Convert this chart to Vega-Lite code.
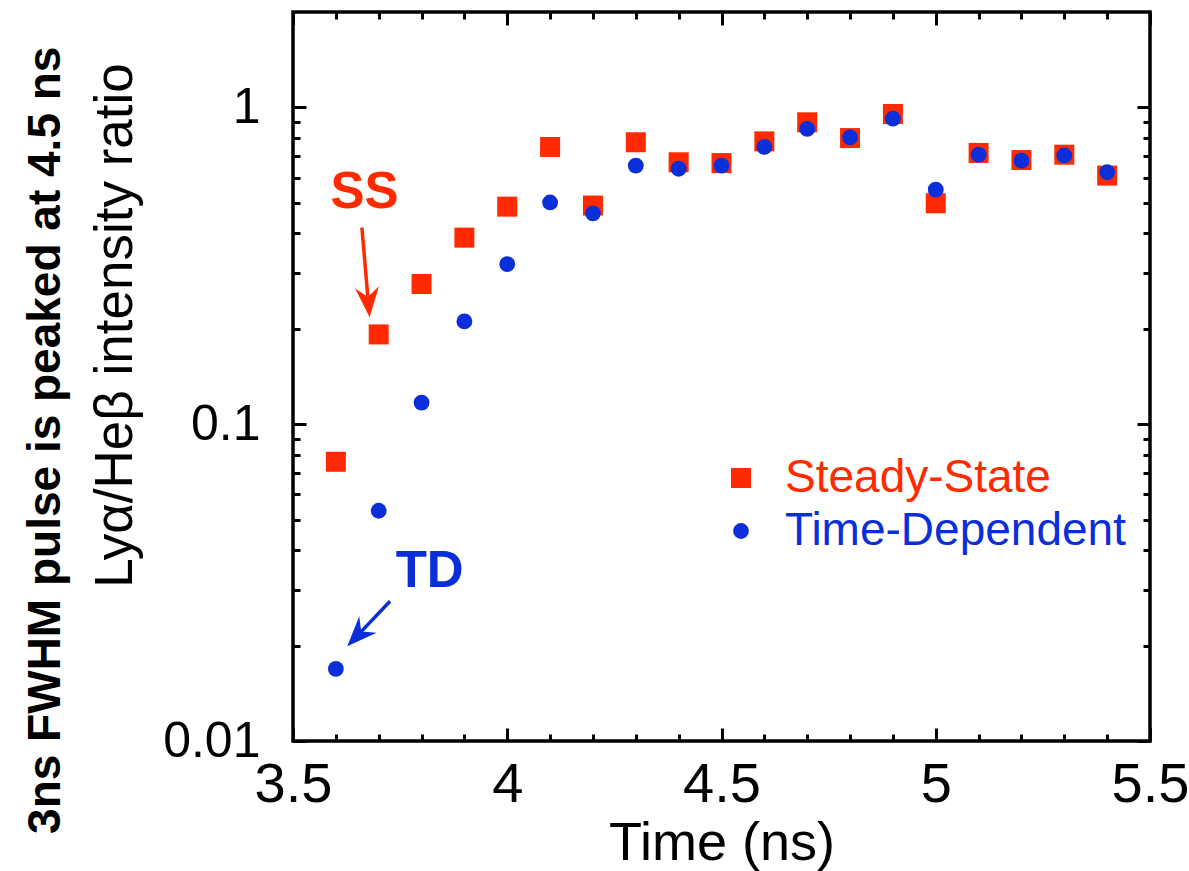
{
  "$schema": "https://vega.github.io/schema/vega-lite/v6.json",
  "width": 857,
  "height": 729,
  "autosize": {"type": "none"},
  "padding": {"left": 293, "top": 12, "right": 39, "bottom": 130},
  "background": "white",
  "title": {
    "text": "3ns FWHM pulse is peaked at 4.5 ns",
    "orient": "left",
    "anchor": "middle",
    "frame": "bounds",
    "font": "Liberation Sans",
    "fontSize": 46,
    "fontWeight": "bold",
    "color": "black",
    "offset": 20
  },
  "config": {
    "view": {"stroke": "black", "strokeWidth": 3.5},
    "axis": {"domain": false, "grid": false, "tickColor": "black", "tickWidth": 3, "labelColor": "black", "titleColor": "black", "labelFlush": false, "labelOverlap": false, "labelBound": false},
    "legend": {
      "orient": "none",
      "legendX": 425,
      "legendY": 443,
      "padding": 0,
      "rowPadding": 7,
      "labelOffset": 21,
      "labelFont": "Liberation Sans",
      "labelFontSize": 46,
      "labelLimit": 0,
      "symbolStrokeWidth": 0,
      "symbolOpacity": 1
    }
  },
  "datasets": {
    "pts": [
      {"t": 3.6, "r": 0.0761, "series": "Steady-State"},
      {"t": 3.7, "r": 0.192, "series": "Steady-State"},
      {"t": 3.8, "r": 0.277, "series": "Steady-State"},
      {"t": 3.9, "r": 0.388, "series": "Steady-State"},
      {"t": 4.0, "r": 0.486, "series": "Steady-State"},
      {"t": 4.1, "r": 0.750, "series": "Steady-State"},
      {"t": 4.2, "r": 0.490, "series": "Steady-State"},
      {"t": 4.3, "r": 0.776, "series": "Steady-State"},
      {"t": 4.4, "r": 0.671, "series": "Steady-State"},
      {"t": 4.5, "r": 0.667, "series": "Steady-State"},
      {"t": 4.6, "r": 0.781, "series": "Steady-State"},
      {"t": 4.7, "r": 0.897, "series": "Steady-State"},
      {"t": 4.8, "r": 0.800, "series": "Steady-State"},
      {"t": 4.9, "r": 0.953, "series": "Steady-State"},
      {"t": 5.0, "r": 0.498, "series": "Steady-State"},
      {"t": 5.1, "r": 0.718, "series": "Steady-State"},
      {"t": 5.2, "r": 0.682, "series": "Steady-State"},
      {"t": 5.3, "r": 0.709, "series": "Steady-State"},
      {"t": 5.4, "r": 0.609, "series": "Steady-State"},
      {"t": 3.6, "r": 0.0169, "series": "Time-Dependent"},
      {"t": 3.7, "r": 0.0533, "series": "Time-Dependent"},
      {"t": 3.8, "r": 0.117, "series": "Time-Dependent"},
      {"t": 3.9, "r": 0.211, "series": "Time-Dependent"},
      {"t": 4.0, "r": 0.320, "series": "Time-Dependent"},
      {"t": 4.1, "r": 0.501, "series": "Time-Dependent"},
      {"t": 4.2, "r": 0.463, "series": "Time-Dependent"},
      {"t": 4.3, "r": 0.655, "series": "Time-Dependent"},
      {"t": 4.4, "r": 0.640, "series": "Time-Dependent"},
      {"t": 4.5, "r": 0.655, "series": "Time-Dependent"},
      {"t": 4.6, "r": 0.750, "series": "Time-Dependent"},
      {"t": 4.7, "r": 0.855, "series": "Time-Dependent"},
      {"t": 4.8, "r": 0.804, "series": "Time-Dependent"},
      {"t": 4.9, "r": 0.922, "series": "Time-Dependent"},
      {"t": 5.0, "r": 0.550, "series": "Time-Dependent"},
      {"t": 5.1, "r": 0.709, "series": "Time-Dependent"},
      {"t": 5.2, "r": 0.679, "series": "Time-Dependent"},
      {"t": 5.3, "r": 0.705, "series": "Time-Dependent"},
      {"t": 5.4, "r": 0.624, "series": "Time-Dependent"}
    ]
  },
  "layer": [
    {
      "data": {"name": "pts"},
      "mark": {"type": "point", "filled": true, "opacity": 1, "strokeWidth": 0},
      "encoding": {
        "x": {
          "field": "t", "type": "quantitative",
          "scale": {"domain": [3.5, 5.5], "nice": false, "zero": false},
          "axis": {
            "orient": "bottom",
            "values": [3.5, 3.6, 3.7, 3.8, 3.9, 4, 4.1, 4.2, 4.3, 4.4, 4.5, 4.6, 4.7, 4.8, 4.9, 5, 5.1, 5.2, 5.3, 5.4, 5.5],
            "tickSize": {"condition": {"test": "abs(datum.value*2 - round(datum.value*2)) < 0.001", "value": -13}, "value": -7},
            "labelExpr": "abs(datum.value*2 - round(datum.value*2)) < 0.001 ? format(datum.value, '~g') : ''",
            "labelFont": "Liberation Sans",
            "labelFontSize": 56,
            "labelPadding": 29,
            "title": "Time (ns)",
            "titleFont": "Liberation Sans",
            "titleFontSize": 54,
            "titleFontWeight": "normal",
            "titlePadding": -2
          }
        },
        "y": {
          "field": "r", "type": "quantitative",
          "scale": {"type": "log", "domain": [0.01, 2], "nice": false},
          "axis": {
            "orient": "left",
            "values": [0.01, 0.02, 0.03, 0.04, 0.05, 0.06, 0.07, 0.08, 0.09, 0.1, 0.2, 0.3, 0.4, 0.5, 0.6, 0.7, 0.8, 0.9, 1],
            "tickSize": {"condition": {"test": "datum.value == 0.01 || datum.value == 0.1 || datum.value == 1", "value": -13}, "value": -7},
            "labelExpr": "datum.value == 1 ? '1' : datum.value == 0.1 ? '0.1' : datum.value == 0.01 ? '0.01' : ''",
            "labelFont": "Liberation Sans",
            "labelFontSize": 50,
            "labelPadding": 46,
            "title": "Lyα/Heβ intensity ratio",
            "titleFont": "Liberation Sans",
            "titleFontSize": 53,
            "titleFontWeight": "normal",
            "titlePadding": 20,
            "titleY": 313
          }
        },
        "color": {
          "field": "series", "type": "nominal",
          "scale": {"domain": ["Steady-State", "Time-Dependent"], "range": ["#ff2a00", "#0a2ed8"]},
          "legend": {
            "title": null,
            "encode": {"labels": {"update": {"fill": {"signal": "datum.label == 'Steady-State' ? '#ff2a00' : '#0a2ed8'"}}}}
          }
        },
        "shape": {
          "field": "series", "type": "nominal",
          "scale": {"domain": ["Steady-State", "Time-Dependent"], "range": ["square", "circle"]},
          "legend": {"title": null}
        },
        "size": {
          "field": "series", "type": "nominal",
          "scale": {"type": "ordinal", "domain": ["Steady-State", "Time-Dependent"], "range": [400, 250]},
          "legend": {"title": null}
        }
      }
    },
    {
      "data": {"values": [{"t": 3.6671, "r": 0.4808, "label": "SS"}]},
      "mark": {"type": "text", "font": "Liberation Sans", "fontSize": 51, "fontWeight": "bold", "color": "#ff2a00", "align": "center", "baseline": "alphabetic"},
      "encoding": {
        "x": {
          "field": "t", "type": "quantitative",
          "scale": {"domain": [3.5, 5.5], "nice": false, "zero": false},
          "axis": {
            "orient": "top",
            "values": [3.5, 3.6, 3.7, 3.8, 3.9, 4, 4.1, 4.2, 4.3, 4.4, 4.5, 4.6, 4.7, 4.8, 4.9, 5, 5.1, 5.2, 5.3, 5.4, 5.5],
            "tickSize": {"condition": {"test": "abs(datum.value*2 - round(datum.value*2)) < 0.001", "value": -13}, "value": -7},
            "labels": false,
            "title": null
          }
        },
        "y": {
          "field": "r", "type": "quantitative",
          "scale": {"type": "log", "domain": [0.01, 2], "nice": false},
          "axis": {
            "orient": "right",
            "values": [0.01, 0.02, 0.03, 0.04, 0.05, 0.06, 0.07, 0.08, 0.09, 0.1, 0.2, 0.3, 0.4, 0.5, 0.6, 0.7, 0.8, 0.9, 1],
            "tickSize": {"condition": {"test": "datum.value == 0.01 || datum.value == 0.1 || datum.value == 1", "value": -13}, "value": -7},
            "labels": false,
            "title": null
          }
        },
        "text": {"field": "label"}
      }
    },
    {
      "data": {"values": [{"t": 3.819, "r": 0.03072, "label": "TD"}]},
      "mark": {"type": "text", "font": "Liberation Sans", "fontSize": 51, "fontWeight": "bold", "color": "#0a2ed8", "align": "center", "baseline": "alphabetic"},
      "encoding": {
        "x": {"field": "t", "type": "quantitative", "scale": {"domain": [3.5, 5.5], "nice": false, "zero": false}, "axis": null},
        "y": {"field": "r", "type": "quantitative", "scale": {"type": "log", "domain": [0.01, 2], "nice": false}, "axis": null},
        "text": {"field": "label"}
      }
    },
    {
      "data": {"values": [{"t": 3.6608, "r": 0.4176, "t2": 3.6762, "r2": 0.2382}]},
      "mark": {"type": "rule", "color": "#ff2a00", "strokeWidth": 3.5},
      "encoding": {
        "x": {"field": "t", "type": "quantitative", "scale": {"domain": [3.5, 5.5], "nice": false, "zero": false}, "axis": null},
        "y": {"field": "r", "type": "quantitative", "scale": {"type": "log", "domain": [0.01, 2], "nice": false}, "axis": null},
        "x2": {"field": "t2"},
        "y2": {"field": "r2"}
      }
    },
    {
      "data": {"values": [{"t": 3.7264, "r": 0.02761, "t2": 3.6508, "r2": 0.02155}]},
      "mark": {"type": "rule", "color": "#0a2ed8", "strokeWidth": 3.5},
      "encoding": {
        "x": {"field": "t", "type": "quantitative", "scale": {"domain": [3.5, 5.5], "nice": false, "zero": false}, "axis": null},
        "y": {"field": "r", "type": "quantitative", "scale": {"type": "log", "domain": [0.01, 2], "nice": false}, "axis": null},
        "x2": {"field": "t2"},
        "y2": {"field": "r2"}
      }
    },
    {
      "data": {"values": [{"t": 3.6757, "r": 0.2427}]},
      "mark": {"type": "point", "shape": "M0,1L-0.8,-1L0,-0.35L0.8,-1Z", "size": 900, "angle": 355, "filled": true, "opacity": 1, "color": "#ff2a00", "strokeWidth": 0},
      "encoding": {
        "x": {"field": "t", "type": "quantitative", "scale": {"domain": [3.5, 5.5], "nice": false, "zero": false}, "axis": null},
        "y": {"field": "r", "type": "quantitative", "scale": {"type": "log", "domain": [0.01, 2], "nice": false}, "axis": null}
      }
    },
    {
      "data": {"values": [{"t": 3.6508, "r": 0.02155}]},
      "mark": {"type": "point", "shape": "M0,1L-0.8,-1L0,-0.35L0.8,-1Z", "size": 900, "angle": 43.5, "filled": true, "opacity": 1, "color": "#0a2ed8", "strokeWidth": 0},
      "encoding": {
        "x": {"field": "t", "type": "quantitative", "scale": {"domain": [3.5, 5.5], "nice": false, "zero": false}, "axis": null},
        "y": {"field": "r", "type": "quantitative", "scale": {"type": "log", "domain": [0.01, 2], "nice": false}, "axis": null}
      }
    }
  ],
  "resolve": {"axis": {"x": "independent", "y": "independent"}}
}
